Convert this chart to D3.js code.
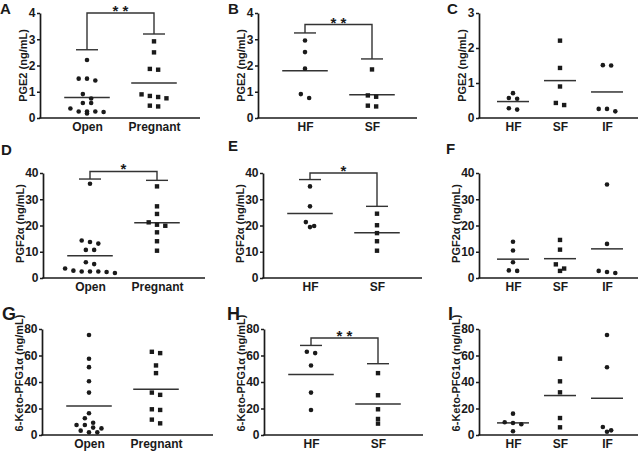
<!DOCTYPE html>
<html><head><meta charset="utf-8">
<script src="https://cdn.jsdelivr.net/npm/d3@7"></script>
<style>
body{margin:0;background:#fff}
svg text{font-family:Arial,"Liberation Sans",sans-serif;font-weight:bold;fill:#1a1a1a}
</style>
</head><body>
<svg id="c" width="639" height="452"></svg>
<script>
// ---------- data ----------
const panelLetters = ["A","B","C","D","E","F","G","H","I"];
const yTitles = ["PGE2 (ng/mL)","PGE2 (ng/mL)","PGE2 (ng/mL)",
  "PGF2α (ng/mL)","PGF2α (ng/mL)","PGF2α (ng/mL)",
  "6-Keto-PFG1α (ng/mL)","6-Keto-PFG1α (ng/mL)","6-Keto-PFG1α (ng/mL)"];
const yMaxes = [4,4,3,40,40,40,80,80,80];
const yTickSteps = [1,1,1,10,10,10,20,20,20];

const catsOP = ["Open","Pregnant"];
const catsHS = ["HF","SF"];
const catsHSI = ["HF","SF","IF"];

const pge2Open = [2.21,1.50,1.43,1.50,0.91,0.74,0.57,0.57,0.23,0.25,0.25,0.25,0.36,0.17];
const pge2Pregnant = [2.92,2.50,1.84,1.87,0.80,0.75,0.84,0.90,0.44,0.47];
const pge2HF_B = [2.95,2.51,1.88,0.76,0.91];
const pge2SF_B = [1.85,0.86,0.81,0.44,0.47];
const pge2HF_C = [0.57,0.71,0.55,0.24,0.28];
const pge2SF_C = [2.21,1.43,0.90,0.37,0.43];
const pge2IF_C = [1.51,1.50,0.19,0.26,0.26];

const pgf2Open = [35.9,13.1,14.3,13.7,10.7,10.7,5.3,6.0,2.3,2.8,2.5,2.5,3.6,1.9,2.5];
const pgf2Pregnant = [34.9,27.3,24.4,20.3,21.2,19.9,17.4,14.0,10.4];
const pgf2HF_E = [34.9,27.3,19.4,21.3,19.8];
const pgf2SF_E = [24.5,20.1,17.1,14.0,10.4];
const pgf2HF_F = [13.8,10.5,6.0,2.7,2.9];
const pgf2SF_F = [14.5,10.8,5.2,2.7,3.6];
const pgf2IF_F = [35.6,13.0,1.9,2.7,2.3];

const ketoOpen = [75.5,57.5,51.2,40.6,32.0,16.4,12.6,9.3,7.6,7.6,5.0,5.6,2.0,2.0,3.3];
const ketoPregnant = [61.8,62.8,52.5,46.7,30.3,32.0,18.9,19.4,11.6,8.8];
const ketoHF_H = [61.8,62.8,52.5,32.0,18.9];
const ketoSF_H = [46.7,30.0,19.4,12.1,8.6];
const ketoHF_I = [16.1,9.1,9.6,8.1,2.8];
const ketoSF_I = [57.6,40.5,32.2,12.8,5.8];
const ketoIF_I = [75.5,51.1,6.0,3.5,2.5];

const panelCats = [catsOP,catsHS,catsHSI,catsOP,catsHS,catsHSI,catsOP,catsHS,catsHSI];
const panelSeries = [
  [pge2Open,pge2Pregnant],[pge2HF_B,pge2SF_B],[pge2HF_C,pge2SF_C,pge2IF_C],
  [pgf2Open,pgf2Pregnant],[pgf2HF_E,pgf2SF_E],[pgf2HF_F,pgf2SF_F,pgf2IF_F],
  [ketoOpen,ketoPregnant],[ketoHF_H,ketoSF_H],[ketoHF_I,ketoSF_I,ketoIF_I]
];

// significance brackets
const sigPanels = ["A","B","D","E","H"];
const sigLegs = [[2.6,3.2],[3.24,2.25],[37.7,37.2],[37.5,27.3],[67.6,53.8]];
const sigTops = [4.0,3.56,40.6,40.0,73.2];
const sigLabels = ["* *","* *","*","*","* *"];

// ---------- layout ----------
const axisXs = [40,258,479, 43,263,479, 42,264,479];
const axisEnds = [200,417,638, 205,422,638, 213,423,638];
const rowTop = [13,173,329];
const rowBot = [118,278,435];
const letterPos = [[0,14],[228,14],[447,14],[1,155],[228,151],[446,154],[2,320],[227,320],[448,320]];
const letterSize = [15,15,15,15,15,15,18,18,18];
const titleShift = [0,-2,-9];

const ink = "#1a1a1a";
const svg = d3.select("#c");

panelLetters.forEach((L, i) => {
  const row = Math.floor(i/3);
  const cats = panelCats[i];
  const series = panelSeries[i];
  const ax = axisXs[i], aEnd = axisEnds[i];
  const yTop = rowTop[row], yBot = rowBot[row];
  const g = svg.append("g");

  const y = d3.scaleLinear().domain([0, yMaxes[i]]).range([yBot, yTop]);
  const x = d3.scalePoint().domain(cats)
    .range(cats.length === 2 ? [ax+47, ax+114] : [ax+34, ax+128]);
  const step = x.step();

  // y axis
  const ticks = d3.range(0, yMaxes[i] + 1e-9, yTickSteps[i]);
  const yAxis = g.append("g").attr("transform", `translate(${ax},0)`)
    .call(d3.axisLeft(y).tickValues(ticks).tickFormat(d3.format("d")).tickSize(3).tickSizeOuter(0).tickPadding(1.5));
  yAxis.select(".domain").attr("stroke", ink).attr("stroke-width", 1.7);
  yAxis.selectAll(".tick line").attr("stroke", ink).attr("stroke-width", 1.5);
  yAxis.selectAll(".tick text").attr("font-size", 12).attr("font-family", null).attr("fill", ink);

  // x axis line + labels
  g.append("path").attr("d", d3.line()([[ax - 0.8, yBot], [aEnd, yBot]]))
    .attr("stroke", ink).attr("stroke-width", 1.7).attr("fill", "none");
  const xAxis = g.append("g").attr("transform", `translate(0,${yBot})`)
    .call(d3.axisBottom(x).tickSize(0).tickPadding(4));
  xAxis.select(".domain").remove();
  xAxis.selectAll(".tick text").attr("font-size", 12).attr("font-family", null).attr("fill", ink);

  // y title
  const bb = yAxis.node().getBBox();
  const tx = ax + bb.x - 1.5;
  const ty = (yTop + yBot)/2 + titleShift[row];
  g.append("text").attr("transform", `translate(${tx},${ty}) rotate(-90)`)
    .attr("text-anchor", "middle").attr("font-size", 11).text(yTitles[i]);

  // panel letter
  g.append("text").attr("x", letterPos[i][0]).attr("y", letterPos[i][1])
    .attr("font-size", letterSize[i]).text(L);

  // significance bracket
  const si = sigPanels.indexOf(L);
  if (si >= 0) {
    const x1 = x(cats[0]), x2 = x(cats[1]);
    const top = y(sigTops[si]);
    const l1 = y(sigLegs[si][0]), l2 = y(sigLegs[si][1]);
    const cap = 11;
    g.append("path").attr("d", d3.line()([[x1, l1], [x1, top], [x2, top], [x2, l2]]))
      .attr("stroke", "#333").attr("stroke-width", 1.4).attr("fill", "none");
    [[x1, l1], [x2, l2]].forEach(([cx, cy]) => {
      g.append("path").attr("d", d3.line()([[cx - cap, cy], [cx + cap, cy]]))
        .attr("stroke", "#333").attr("stroke-width", 1.4);
    });
    g.append("text").attr("x", (x1 + x2)/2).attr("y", top + 3)
      .attr("text-anchor", "middle").attr("font-size", 15).text(sigLabels[si]);
  }

  // points + means
  const dot = 8.3;
  cats.forEach((c, k) => {
    const vals = series[k].slice().sort((a, b) => b - a);
    const cx = x(c);
    // group into rows of touching points, spread symmetrically
    const rows = [];
    vals.forEach(v => {
      const last = rows[rows.length - 1];
      if (last && Math.abs(y(v) - y(last[0])) < 4.6) last.push(v);
      else rows.push([v]);
    });
    const square = (c === "Pregnant" || c === "SF");
    // mean
    const m = d3.mean(series[k]);
    const hw = step * 0.34;
    g.append("path").attr("d", d3.line()([[cx - hw, y(m)], [cx + hw, y(m)]]))
      .attr("stroke", "#333").attr("stroke-width", 1.5);
    rows.forEach(r => {
      r.forEach((v, j) => {
        const px = cx + (j - (r.length - 1)/2) * dot;
        const py = y(v);
        if (square) {
          g.append("rect").attr("x", px - 2.2).attr("y", py - 2.2)
            .attr("width", 4.4).attr("height", 4.4).attr("fill", ink);
        } else {
          g.append("circle").attr("cx", px).attr("cy", py).attr("r", 2.3).attr("fill", ink);
        }
      });
    });
  });
});
</script>
</body></html>
